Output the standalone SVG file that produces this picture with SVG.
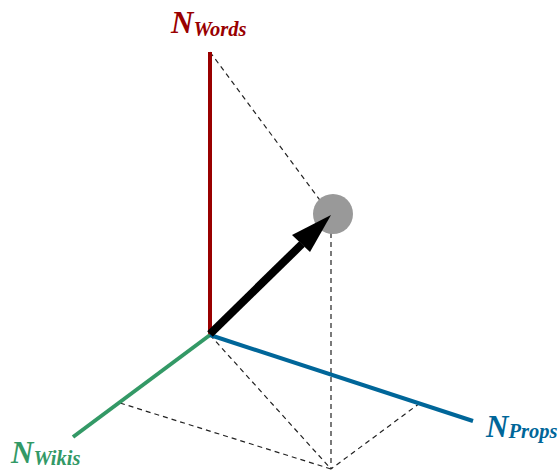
<svg xmlns="http://www.w3.org/2000/svg" width="559" height="471" viewBox="0 0 559 471">
<style>
.dash{stroke:#222;stroke-width:1.2;stroke-dasharray:5,4;fill:none}
.axis{stroke-width:4;fill:none}
.lbl{font-family:"Liberation Serif",serif;font-weight:bold;font-style:italic}
.big{font-size:31px}
.sub{font-size:20.5px}
</style>
<rect width="559" height="471" fill="#fff"/>
<g id="connectors">
<line class="dash" x1="210" y1="52" x2="331" y2="215"/>
<line class="dash" x1="331" y1="215" x2="331" y2="469"/>
<line class="dash" x1="210" y1="335" x2="331" y2="469"/>
<line class="dash" x1="120" y1="403" x2="331" y2="469"/>
<line class="dash" x1="420" y1="403" x2="331" y2="469"/>
</g>
<g id="axis-words"><line class="axis" stroke="#990000" x1="210" y1="52" x2="210" y2="336"/>
<text class="lbl" fill="#990000" x="171" y="33"><tspan class="big">N</tspan><tspan class="sub" dy="3">Words</tspan></text></g>
<g id="axis-wikis"><line class="axis" stroke="#339966" x1="210" y1="335" x2="73" y2="437"/>
<text class="lbl" fill="#339966" x="11" y="463"><tspan class="big">N</tspan><tspan class="sub" dy="2">Wikis</tspan></text></g>
<g id="axis-props"><line class="axis" stroke="#006699" x1="210" y1="335" x2="473" y2="421"/>
<text class="lbl" fill="#006699" x="486" y="437"><tspan class="big">N</tspan><tspan class="sub" dy="1">Props</tspan></text></g>
<g id="point"><circle cx="333" cy="214" r="20" fill="#999"/></g>
<g id="vector">
<line x1="210" y1="334" x2="302" y2="244" stroke="#000" stroke-width="8"/>
<polygon points="331,215 310,252 292,235" fill="#000"/>
</g>
</svg>
